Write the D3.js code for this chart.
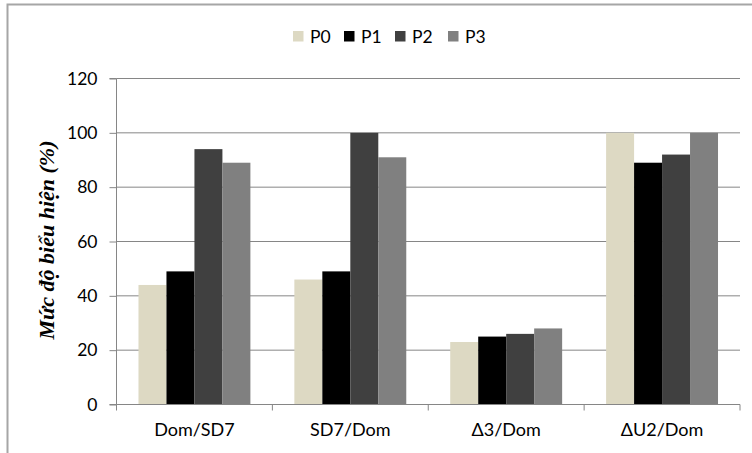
<!DOCTYPE html>
<html>
<head>
<meta charset="utf-8">
<script src="https://cdn.jsdelivr.net/npm/d3@7"></script>
<style>
  html, body { margin: 0; padding: 0; background: #fff; }
  svg { display: block; }
</style>
</head>
<body>
<svg id="chart" width="752" height="453"></svg>
<script>
const categories = ["Dom/SD7", "SD7/Dom", "Δ3/Dom", "ΔU2/Dom"];
const seriesNames = ["P0", "P1", "P2", "P3"];
const P0 = [44, 46, 23, 100];
const P1 = [49, 49, 25, 89];
const P2 = [94, 100, 26, 92];
const P3 = [89, 91, 28, 100];
const yTicks = [0, 20, 40, 60, 80, 100, 120];
const seriesValues = [P0, P1, P2, P3];
const colors = ["#DDD9C3", "#000000", "#404040", "#808080"];

const svg = d3.select("#chart");
const pLeft = 116.5, pRight = 740, pTop = 78.5, pBottom = 404.5;

// outer frame
svg.append("rect").attr("x", 7.5).attr("y", 4.5).attr("width", 760).attr("height", 460)
  .attr("fill", "none").attr("stroke", "#a6a6a6").attr("stroke-width", 2);

const x = d3.scaleBand().domain(categories).range([pLeft, pRight]).padding(0);
const xs = d3.scaleBand().domain(seriesNames).range([0, x.bandwidth()])
  .paddingInner(0).paddingOuter(22 / 28);
const y = d3.scaleLinear().domain([0, 120]).range([pBottom, pTop]);

// gridlines
svg.append("g").selectAll("line").data(yTicks.filter(d => d > 0)).join("line")
  .attr("x1", pLeft).attr("x2", pRight)
  .attr("y1", d => y(d)).attr("y2", d => y(d))
  .attr("stroke", "#868686").attr("stroke-width", 1);

// bars
const groups = svg.append("g").selectAll("g").data(categories).join("g")
  .attr("transform", c => `translate(${x(c)},0)`);
groups.selectAll("rect").data((c, ci) => seriesNames.map((s, si) => ({ s, si, v: seriesValues[si][ci] })))
  .join("rect")
  .attr("x", d => xs(d.s))
  .attr("width", xs.bandwidth())
  .attr("y", d => y(d.v))
  .attr("height", d => y(0) - y(d.v))
  .attr("fill", d => colors[d.si]);

// y axis
const yAxis = d3.axisLeft(y).tickValues(yTicks).tickSize(7).tickPadding(12).tickFormat(d3.format("d"));
const gy = svg.append("g").attr("transform", `translate(${pLeft},0)`).call(yAxis);
gy.select(".domain").attr("stroke", "#868686").attr("d", `M-7,${pTop}H0V${pBottom}H-7`);
gy.selectAll(".tick line").attr("stroke", "#868686");
gy.selectAll(".tick text").attr("fill", "#000").style("font-family", "Lato, 'Open Sans', sans-serif").style("font-size", "17.5px");

// x axis
const xAxis = d3.axisBottom(x).tickSize(0).tickPadding(19);
const gx = svg.append("g").attr("transform", `translate(0,${pBottom})`).call(xAxis);
gx.select(".domain").attr("stroke", "#868686").attr("d", `M${pLeft},0H${pRight}`);
gx.selectAll(".tick text").attr("fill", "#000").attr("dy", "0.71em")
  .style("font-family", "Lato, 'Open Sans', sans-serif").style("font-size", "18px");
// category boundary ticks
const bounds = categories.map(c => x(c)).concat([x(categories[categories.length - 1]) + x.bandwidth()]);
gx.append("g").selectAll("line").data(bounds).join("line")
  .attr("x1", d => d).attr("x2", d => d).attr("y1", 0).attr("y2", 6)
  .attr("stroke", "#868686");

// y title
svg.append("text")
  .attr("transform", "translate(54,240) rotate(-90)")
  .attr("text-anchor", "middle")
  .style("font-family", "'Liberation Serif', 'Times New Roman', serif")
  .style("font-style", "italic").style("font-weight", "bold").style("font-size", "22px")
  .text("Mức độ biểu hiện (%)");

// legend
const legendX = [293, 344, 395, 448];
const lg = svg.append("g").selectAll("g").data(seriesNames).join("g")
  .attr("transform", (d, i) => `translate(${legendX[i]},31)`);
lg.append("rect").attr("width", 10.5).attr("height", 10.5).attr("fill", (d, i) => colors[i]);
lg.append("text").attr("x", 17).attr("y", 11.5).text(d => d)
  .style("font-family", "Lato, 'Open Sans', sans-serif").style("font-size", "17.5px").attr("fill", "#000");
</script>
</body>
</html>
